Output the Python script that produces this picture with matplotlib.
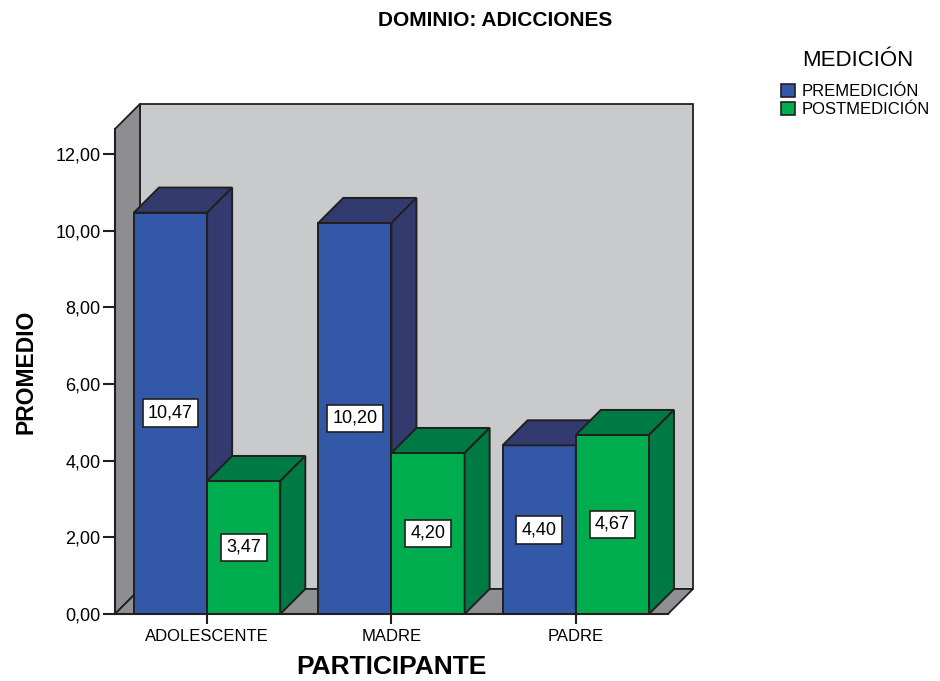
import matplotlib.pyplot as plt
from matplotlib.patches import Polygon, Patch
import numpy as np

plt.rcParams['font.family'] = ['Liberation Sans', 'DejaVu Sans']

# datos
participantes = ['ADOLESCENTE', 'MADRE', 'PADRE']
premedicion = [10.47, 10.20, 4.40]
postmedicion = [3.47, 4.20, 4.67]
series = ['PREMEDICIÓN', 'POSTMEDICIÓN']
yticks = [0, 2, 4, 6, 8, 10, 12]

# colores: frente, cara lateral/superior
col_front = ['#3358A8', '#00AD4E']
col_dark = ['#333A6E', '#007A45']
borde = '#231F20'

fig = plt.figure(figsize=(9.4, 6.81), dpi=100)
ax = fig.add_axes([0.1223, 0.0984, 0.5883, 0.7122])

xmin, xmax = -0.5, 2.5
ymin, ymax = 0, 12.65
ax.set_xlim(xmin, xmax)
ax.set_ylim(ymin, ymax)

# profundidad 3D en pixeles -> unidades de datos
prof_px = 25
bb = ax.get_window_extent()
dx = prof_px * (xmax - xmin) / bb.width
dy = prof_px * (ymax - ymin) / bb.height

# pared del fondo, pared lateral y piso
pared = Polygon([(xmin + dx, dy), (xmax + dx, dy), (xmax + dx, ymax + dy), (xmin + dx, ymax + dy)],
                closed=True, facecolor='#C9CACC', edgecolor=borde, lw=1.3, clip_on=False, zorder=0.5)
lateral = Polygon([(xmin, 0), (xmin + dx, dy), (xmin + dx, ymax + dy), (xmin, ymax)],
                  closed=True, facecolor='#8D8E92', edgecolor=borde, lw=1.3, clip_on=False, zorder=0.6)
piso = Polygon([(xmin, 0), (xmax, 0), (xmax + dx, dy), (xmin + dx, dy)],
               closed=True, facecolor='#8F9093', edgecolor=borde, lw=1.3, clip_on=False, zorder=0.6)
ax.add_patch(pared)
ax.add_patch(lateral)
ax.add_patch(piso)

x = np.arange(len(participantes))
ancho = 0.397
valores = [premedicion, postmedicion]

z = 1
etiquetas = []
for i in range(len(participantes)):
    for s in range(2):
        h = valores[s][i]
        x0 = x[i] - ancho + s * ancho
        x1 = x0 + ancho
        ax.bar(x0, h, width=ancho, align='edge', color=col_front[s], edgecolor=borde,
               linewidth=1.4, zorder=z)
        top = Polygon([(x0, h), (x1, h), (x1 + dx, h + dy), (x0 + dx, h + dy)], closed=True,
                      facecolor=col_dark[s], edgecolor=borde, lw=1.4, zorder=z, clip_on=False)
        side = Polygon([(x1, 0), (x1 + dx, dy), (x1 + dx, h + dy), (x1, h)], closed=True,
                       facecolor=col_dark[s], edgecolor=borde, lw=1.4, zorder=z, clip_on=False)
        ax.add_patch(top)
        ax.add_patch(side)
        etiquetas.append((x0 + ancho / 2, h / 2, f'{h:.2f}'.replace('.', ',')))
        z += 1

for xe, ye, txt in etiquetas:
    ax.text(xe, ye, txt, ha='center', va='center', fontsize=13, zorder=50,
            bbox=dict(boxstyle='square,pad=0.3', facecolor='white', edgecolor=borde, lw=1.2))

# ejes
ax.set_facecolor('none')
for lado in ['top', 'right']:
    ax.spines[lado].set_visible(False)
for lado in ['left', 'bottom']:
    ax.spines[lado].set_color(borde)
    ax.spines[lado].set_linewidth(1.5)
    ax.spines[lado].set_zorder(40)

ax.set_yticks(yticks)
ax.set_yticklabels([f'{v:.2f}'.replace('.', ',') for v in yticks], fontsize=13)
ax.set_xticks(x)
ax.set_xticklabels(participantes, fontsize=12)
ax.tick_params(axis='y', direction='out', length=9, width=1.5, color=borde, pad=1.5)
ax.tick_params(axis='x', direction='out', length=7.5, width=1.5, color=borde, pad=3)

ax.set_ylabel('PROMEDIO', fontsize=16.5, fontweight='bold', labelpad=13)
ax.set_xlabel('PARTICIPANTE', fontsize=19, fontweight='bold', labelpad=8)

fig.text(0.527, 1 - 20 / 681, 'DOMINIO: ADICCIONES', ha='center', va='center', fontsize=15, fontweight='bold')

# leyenda
fig.text(858 / 940, 1 - 60 / 681, 'MEDICIÓN', ha='center', va='center', fontsize=16)
handles = [Patch(facecolor=col_front[k], edgecolor=borde, lw=1.2) for k in range(2)]
leg = fig.legend(handles, series, loc='upper left', bbox_to_anchor=(781 / 940, 1 - 84 / 681),
                 frameon=False, fontsize=12, handlelength=0.85, handleheight=0.85,
                 handletextpad=0.4, labelspacing=0.15, borderpad=0, borderaxespad=0)

fig.savefig('out.png', dpi=100)
